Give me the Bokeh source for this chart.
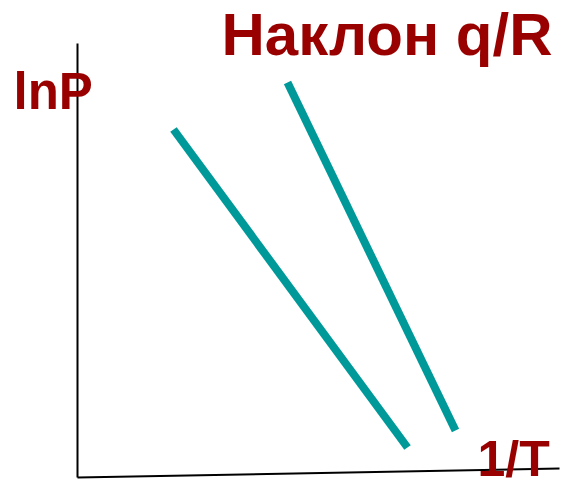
from bokeh.plotting import figure
from bokeh.models import Range1d
from bokeh.core.properties import value
from bokeh.embed import file_html
from bokeh.resources import INLINE

# Axes of the sketch (1/T horizontal, lnP vertical), in arbitrary units
axis_y_x = [0.0, 0.0]
axis_y_y = [0.0, 4.34]
axis_x_x = [0.0, 4.82]
axis_x_y = [0.0, 0.09]

# Two straight lines lnP vs 1/T with different slopes q/R
line1_x = [0.96, 3.30]
line1_y = [3.48, 0.30]
line2_x = [2.10, 3.78]
line2_y = [3.95, 0.47]

# Labels
label_text = ["lnP", "Наклон q/R", "1/T"]
label_x = [-0.64, 1.44, 4.00]
label_y = [3.86, 4.43, 0.19]
label_size = ["51px", "60px", "50px"]

TEAL = "#009999"
DARK_RED = "#990000"

p = figure(width=575, height=489, output_backend="svg", toolbar_location=None,
           x_range=Range1d(-0.77, 4.98), y_range=Range1d(-0.12, 4.77),
           min_border=0, outline_line_color=None)
p.axis.visible = False
p.grid.visible = False
p.background_fill_color = "white"
p.border_fill_color = "white"

p.line(axis_y_x, axis_y_y, line_color="black", line_width=2)
p.line(axis_x_x, axis_x_y, line_color="black", line_width=2)

p.line(line1_x, line1_y, line_color=TEAL, line_width=8)
p.line(line2_x, line2_y, line_color=TEAL, line_width=8)

for t, x, y, s in zip(label_text, label_x, label_y, label_size):
    p.text(x=[x], y=[y], text=[t], text_font=value("Liberation Sans"),
           text_font_style="bold", text_font_size=s, text_color=DARK_RED,
           text_baseline="alphabetic", text_align="left")

open("out.html", "w").write(file_html(p, INLINE))
